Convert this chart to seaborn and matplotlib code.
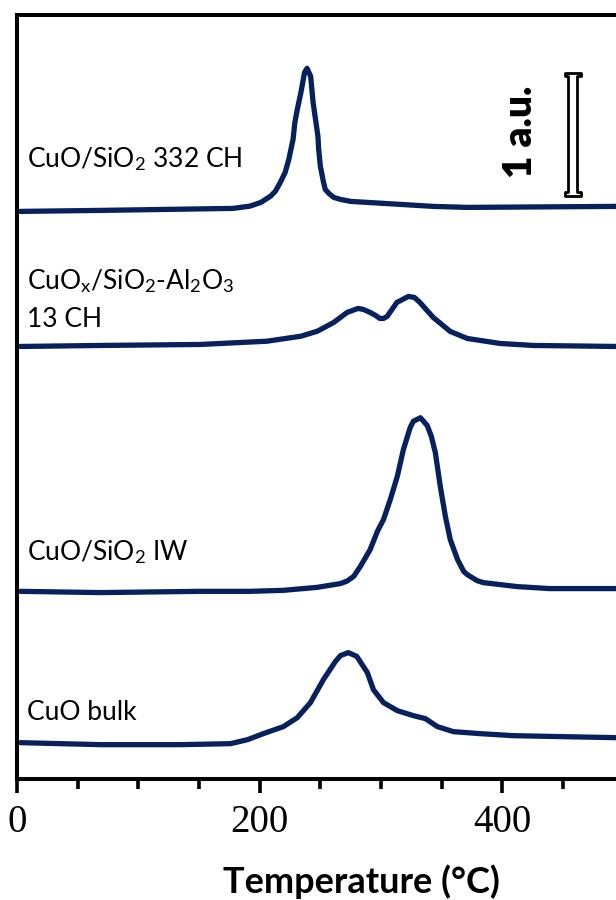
import matplotlib
matplotlib.use("Agg")
import matplotlib.pyplot as plt
import seaborn as sns
import pandas as pd
from matplotlib.patches import Polygon

# H2-TPR profiles (temperature in degC, signal in a.u.)
temp_332ch = [3, 69, 178, 192, 201, 209, 213, 217, 221, 224, 227.5, 229, 231, 234,
              237, 239, 242, 244, 248, 248.6, 250, 252.4, 254, 257, 261, 266.5, 275,
              316, 343, 371, 494]
sig_332ch = [0.036, 0.044, 0.060, 0.078, 0.108, 0.158, 0.198, 0.268, 0.348, 0.452,
             0.612, 0.748, 0.852, 0.988, 1.148, 1.180, 1.116, 0.908, 0.636, 0.532,
             0.396, 0.278, 0.212, 0.180, 0.148, 0.132, 0.116, 0.092, 0.076, 0.068,
             0.076]

temp_13ch = [3, 69, 151, 206, 234, 247.5, 261, 272, 281, 285.5, 291, 295.5, 299,
             302, 305, 313, 322.5, 327.5, 332, 343, 357, 371, 398, 425.5, 494]
sig_13ch = [0.056, 0.064, 0.072, 0.098, 0.138, 0.178, 0.248, 0.328, 0.360, 0.352,
            0.328, 0.304, 0.280, 0.280, 0.296, 0.408, 0.456, 0.448, 0.408, 0.288,
            0.176, 0.120, 0.080, 0.064, 0.056]

temp_iw = [3, 69, 151, 192, 219.5, 247.5, 266.5, 272, 277.5, 283, 291, 297, 302,
           307.6, 313.4, 318.4, 324, 326.6, 332.4, 338, 341.4, 344.7, 348.8, 353,
           357, 363, 368, 371, 379, 384, 412, 439, 494]
sig_iw = [0.098, 0.088, 0.098, 0.098, 0.106, 0.130, 0.160, 0.180, 0.218, 0.298,
          0.432, 0.578, 0.672, 0.832, 1.018, 1.232, 1.408, 1.458, 1.486, 1.424,
          1.338, 1.208, 0.936, 0.696, 0.512, 0.352, 0.258, 0.232, 0.184, 0.168,
          0.136, 0.120, 0.120]

temp_bulk = [3, 69, 135, 176, 190, 203, 219.5, 231, 241.8, 252.5, 262.3, 266.5,
             273, 280, 288.7, 293.7, 302, 313.4, 326.6, 336.5, 346.4, 359.6, 381.8,
             409, 450, 494]
sig_bulk = [0.088, 0.072, 0.072, 0.080, 0.112, 0.160, 0.216, 0.288, 0.408, 0.592,
            0.736, 0.784, 0.808, 0.778, 0.648, 0.512, 0.408, 0.344, 0.304, 0.280,
            0.216, 0.176, 0.160, 0.144, 0.136, 0.128]

sample_names = ["CuO/SiO$_2$ 332 CH",
                "CuO$_\\mathrm{x}$/SiO$_2$-Al$_2$O$_3$",
                "13 CH",
                "CuO/SiO$_2$ IW",
                "CuO bulk"]
name_levels = [4.952, 3.976, 3.672, 1.816, 0.528]
offsets = [4.5, 3.4, 1.4, 0.2]
scale_bar_au = 1.0

sns.set_style("ticks")
plt.rcParams["font.family"] = ["Lato", "DejaVu Sans"]
plt.rcParams["mathtext.fontset"] = "custom"
plt.rcParams["mathtext.rm"] = "Lato"
plt.rcParams["mathtext.it"] = "Lato:italic"
plt.rcParams["mathtext.bf"] = "Lato:bold"
plt.rcParams["text.color"] = "black"
plt.rcParams["axes.labelcolor"] = "black"
plt.rcParams["xtick.color"] = "black"

navy = "#07215f"

fig = plt.figure(figsize=(6.16, 9.0), dpi=100)
ax = fig.add_axes([0.0274, 0.1348, 1.1036, 0.8482])

series = [(temp_332ch, sig_332ch), (temp_13ch, sig_13ch),
          (temp_iw, sig_iw), (temp_bulk, sig_bulk)]
for (t, s), off in zip(series, offsets):
    df = pd.DataFrame({"T": t, "y": [v + off for v in s]})
    sns.lineplot(data=df, x="T", y="y", ax=ax, color=navy, linewidth=3.8,
                 solid_capstyle="round", solid_joinstyle="round")

# sample labels
for name, lvl in zip(sample_names, name_levels):
    ax.text(8.6, lvl, name, fontsize=19, va="center", ha="left", color="black")

# 1 a.u. scale bar
xc, y0 = 458.0, 4.662
y1 = y0 + scale_bar_au * 0.98
hb, hc, ch = 3.8, 6.3, 0.026
verts = [(xc - hc, y0), (xc + hc, y0), (xc + hc, y0 + ch), (xc + hb, y0 + ch),
         (xc + hb, y1 - ch), (xc + hc, y1 - ch), (xc + hc, y1), (xc - hc, y1),
         (xc - hc, y1 - ch), (xc - hb, y1 - ch), (xc - hb, y0 + ch), (xc - hc, y0 + ch)]
ax.add_patch(Polygon(verts, closed=True, facecolor="white", edgecolor="black",
                     linewidth=2.0, joinstyle="round", zorder=5))
ax.text(415.0, 5.176, "1 a.u.", rotation=90, fontsize=28, fontweight="heavy",
        va="center", ha="center", color="black")

# axes styling
for side in ["left", "top", "bottom", "right"]:
    ax.spines[side].set_linewidth(2.9)
    ax.spines[side].set_color("black")
ax.set_yticks([])
ax.set_ylabel("")
ax.set_xticks([0, 200, 400, 600])
ax.set_xticks([50, 100, 150, 250, 300, 350, 450, 500, 550], minor=True)
ax.set_xlim(0, 560)
ax.set_ylim(0, 6.104)
ax.tick_params(axis="x", which="major", direction="out", length=10, width=2.6,
               pad=8, labelsize=28, colors="black")
ax.tick_params(axis="x", which="minor", direction="out", length=7, width=2.6,
               colors="black")
for lab in ax.get_xticklabels():
    lab.set_fontfamily("Liberation Serif")
ax.set_xlabel("Temperature (°C)", fontsize=26, fontweight="bold", color="black")
ax.xaxis.set_label_coords(0.507, -0.112)

fig.savefig("out.png", dpi=100)
